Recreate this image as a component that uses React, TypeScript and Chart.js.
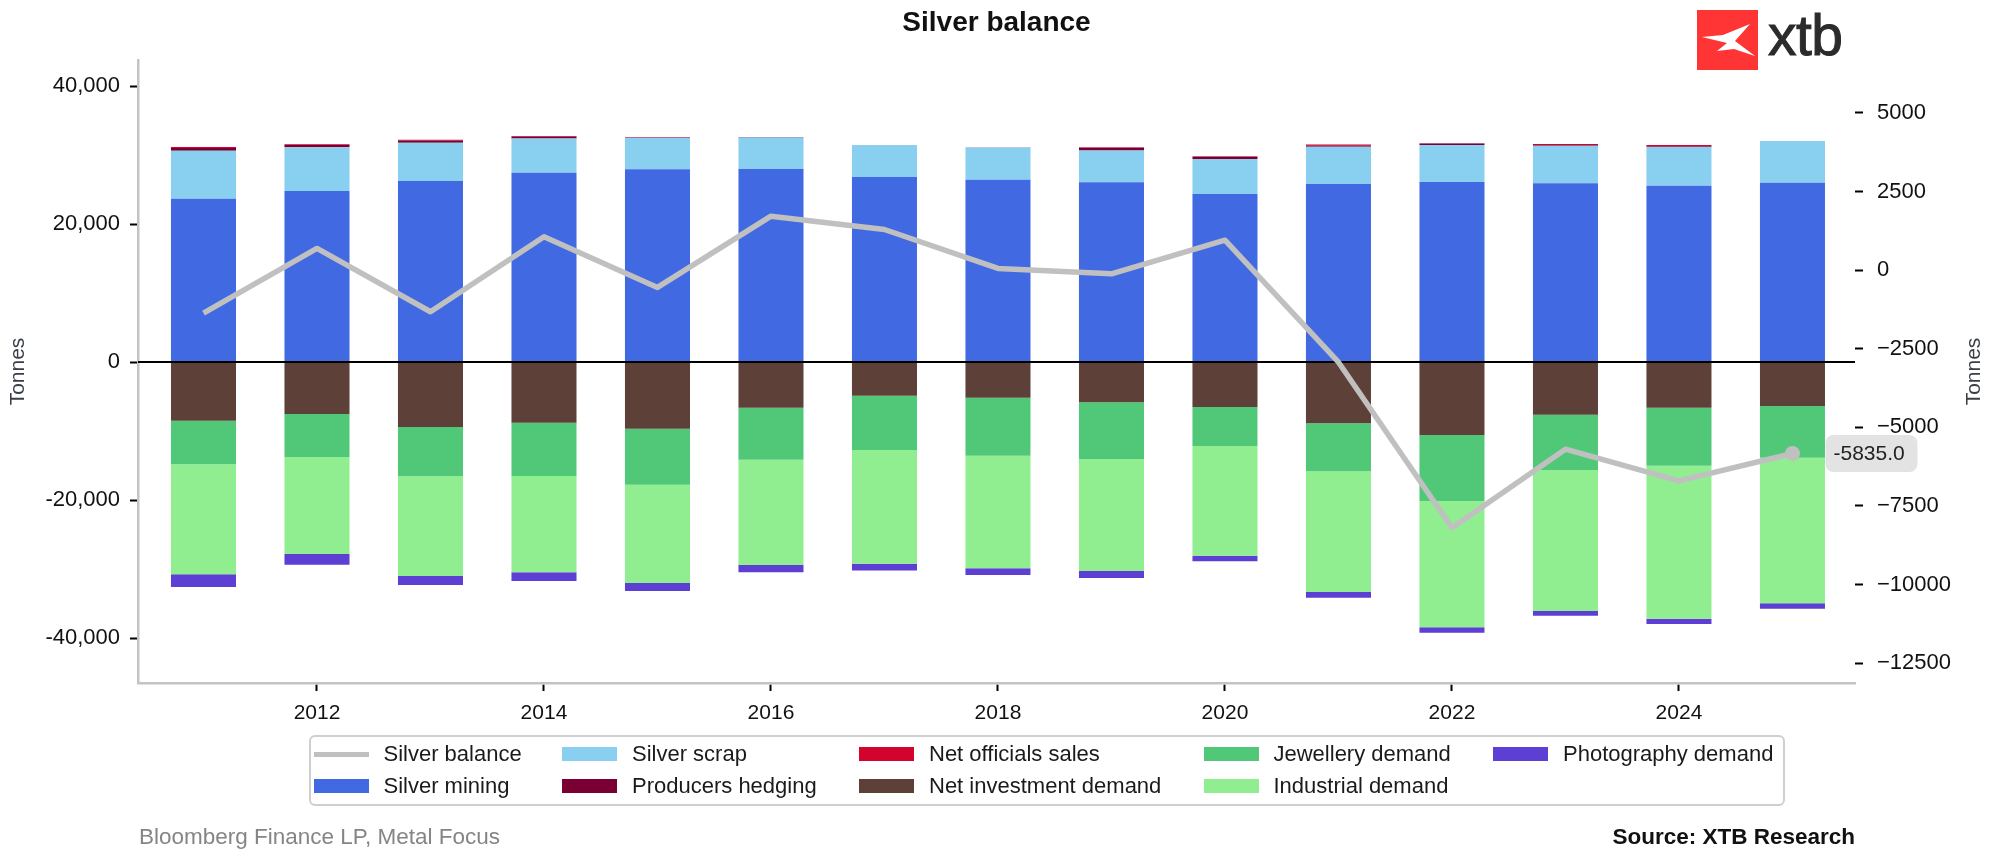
import React, { useEffect, useRef } from 'react';
import { Chart, registerables } from 'chart.js';

Chart.register(...registerables);

// ---------- data ----------
const years = [2011, 2012, 2013, 2014, 2015, 2016, 2017, 2018, 2019, 2020, 2021, 2022, 2023, 2024, 2025];

const silverBalance = [-1366, 689, -1324, 1059, -550, 1716, 1292, 53, -117, 953, -2930, -8197, -5697, -6703, -5835];

const silverMining = [23670, 24783, 26232, 27439, 27923, 27971, 26812, 26425, 26039, 24348, 25797, 26087, 25894, 25555, 25990];
const silverScrap = [6960, 6350, 5550, 4960, 4590, 4560, 4600, 4650, 4600, 5090, 5410, 5370, 5450, 5620, 6040];
const producersHedging = [380, 330, 320, 290, 0, 80, 40, 0, 430, 300, 150, 200, 120, 60, 0];
const netOfficialsSales = [150, 100, 100, 60, 100, 0, 0, 60, 70, 80, 180, 60, 120, 220, 0];
const netInvestmentDemand = [-8500, -7540, -9420, -8790, -9660, -6620, -4880, -5170, -5845, -6520, -8890, -10580, -7630, -6620, -6375];
const jewelleryDemand = [-6330, -6230, -7150, -7730, -8120, -7535, -7875, -8405, -8215, -5650, -6955, -9565, -8020, -8405, -7490];
const industrialDemand = [-15945, -14060, -14445, -13960, -14250, -15265, -16475, -16330, -16230, -15900, -17490, -18310, -20435, -22175, -21110];
const photographyDemand = [-1835, -1545, -1305, -1255, -1160, -1065, -970, -965, -1015, -820, -820, -775, -675, -775, -775];

// ---------- axes ----------
const leftAxisRange = [-46520, 43770];
const rightAxisRange = [-13135, 6684];
const xAxisRange = [2010.423, 2025.551];
const leftTicks = [-40000, -20000, 0, 20000, 40000];
const rightTicks = [-12500, -10000, -7500, -5000, -2500, 0, 2500, 5000];
const xTicks = [2012, 2014, 2016, 2018, 2020, 2022, 2024];

const titleText = 'Silver balance';
const axisTitle = 'Tonnes';
const sourceLeft = 'Bloomberg Finance LP, Metal Focus';
const sourceRight = 'Source: XTB Research';

// ---------- series definitions ----------
const FONT = '"Liberation Sans", Arial, Helvetica, sans-serif';

const balanceSeries = { label: 'Silver balance', data: silverBalance, color: '#c0c0c0' };
const barSeries = [
  { label: 'Silver mining', data: silverMining, color: '#4169e1' },
  { label: 'Silver scrap', data: silverScrap, color: '#89cff0' },
  { label: 'Producers hedging', data: producersHedging, color: '#7a0033' },
  { label: 'Net officials sales', data: netOfficialsSales, color: '#d2042d' },
  { label: 'Net investment demand', data: netInvestmentDemand, color: '#5d4037' },
  { label: 'Jewellery demand', data: jewelleryDemand, color: '#50c878' },
  { label: 'Industrial demand', data: industrialDemand, color: '#90ee90' },
  { label: 'Photography demand', data: photographyDemand, color: '#5d3fd3' },
];

const legendEntries = [
  { label: balanceSeries.label, color: balanceSeries.color, kind: 'line' },
  ...barSeries.map((s) => ({ label: s.label, color: s.color, kind: 'box' })),
];

// legend layout (column-major, 2 rows)
const legendColX = [313.5, 562, 859, 1203.5, 1493];
const legendRowY = [754, 786];

const toPoints = (arr: number[]) => years.map((x, i) => ({ x, y: arr[i] }));
const setTicks = (values: number[]) => (scale: any) => {
  scale.ticks = values.map((value) => ({ value }));
};

const overlayPlugin = {
  id: 'overlay',
  beforeDatasetDraw(chart: any, args: any) {
    if (args.meta.type !== 'line') return;
    const { ctx, chartArea } = chart;
    const y0 = chart.scales.y.getPixelForValue(0);
    ctx.save();
    ctx.strokeStyle = '#000';
    ctx.lineWidth = 2;
    ctx.beginPath();
    ctx.moveTo(chartArea.left, y0);
    ctx.lineTo(chartArea.right, y0);
    ctx.stroke();
    ctx.restore();
  },
  afterDatasetsDraw(chart: any) {
    const { ctx } = chart;
    const meta = chart.getDatasetMeta(chart.data.datasets.length - 1);
    const last = meta.data[meta.data.length - 1];
    if (!last) return;
    const val = silverBalance[silverBalance.length - 1];
    const bx = last.x + 33;
    const bw = 92;
    const bh = 37;
    const by = last.y - bh / 2;
    ctx.save();
    ctx.fillStyle = 'rgba(222,222,222,0.85)';
    ctx.beginPath();
    (ctx as any).roundRect(bx, by, bw, bh, 8);
    ctx.fill();
    ctx.fillStyle = '#222';
    ctx.font = `21px ${FONT}`;
    ctx.textAlign = 'left';
    ctx.textBaseline = 'middle';
    ctx.fillText(val.toFixed(1), bx + 8, last.y + 1);
    ctx.restore();
  },
  afterDraw(chart: any) {
    const { ctx, chartArea } = chart;
    const cy = (chartArea.top + chartArea.bottom) / 2;
    ctx.save();
    ctx.fillStyle = '#3a3f47';
    ctx.font = `21px ${FONT}`;
    ctx.textAlign = 'center';
    ctx.textBaseline = 'middle';
    [18.5, 1974].forEach((x) => {
      ctx.save();
      ctx.translate(x, cy);
      ctx.rotate(-Math.PI / 2);
      ctx.fillText(axisTitle, 0, 0);
      ctx.restore();
    });
    ctx.restore();
  },
};

function ChartCanvas() {
  const ref = useRef<HTMLCanvasElement | null>(null);
  useEffect(() => {
    if (!ref.current) return;
    const datasets: any[] = barSeries.map((s) => ({
      type: 'bar',
      label: s.label,
      data: toPoints(s.data),
      backgroundColor: s.color,
      borderWidth: 0,
      barPercentage: 0.573,
      categoryPercentage: 1,
      xAxisID: 'x',
      yAxisID: 'y',
      stack: 'balance',
      order: 1,
    }));
    datasets.push({
      type: 'line',
      label: balanceSeries.label,
      data: toPoints(balanceSeries.data),
      borderColor: balanceSeries.color,
      backgroundColor: balanceSeries.color,
      borderWidth: 5.5,
      tension: 0,
      borderJoinStyle: 'round',
      pointRadius: (c: any) => (c.dataIndex === years.length - 1 ? 7.5 : 0),
      pointHoverRadius: 0,
      pointBorderWidth: 0,
      pointBackgroundColor: balanceSeries.color,
      xAxisID: 'x',
      yAxisID: 'y1',
      order: 0,
      fill: false,
    });

    const tickFont = { family: FONT, size: 22 };
    const tickGrid = {
      display: true,
      drawOnChartArea: false,
      drawTicks: true,
      tickLength: 8,
      tickColor: '#000',
      tickWidth: 2,
      offset: false,
    };
    const chart = new Chart(ref.current, {
      type: 'bar',
      data: { datasets },
      options: {
        responsive: false,
        animation: false,
        devicePixelRatio: 1,
        layout: { padding: { top: 60, left: 0, right: 0, bottom: 0 } },
        plugins: {
          legend: { display: false },
          tooltip: { enabled: false },
          title: { display: false },
        },
        events: [],
        scales: {
          x: {
            type: 'linear',
            position: 'bottom',
            min: xAxisRange[0],
            max: xAxisRange[1],
            offset: false,
            stacked: true,
            grid: tickGrid,
            border: { display: true, color: '#c4c4c4', width: 2.5 },
            afterBuildTicks: setTicks(xTicks),
            ticks: {
              autoSkip: false,
              maxRotation: 0,
              color: '#111',
              font: { family: FONT, size: 21 },
              padding: 10,
              callback: (v: any) => String(v),
            },
            afterFit: (s: any) => {
              s.height = 176;
            },
          },
          y: {
            type: 'linear',
            position: 'left',
            stacked: true,
            min: leftAxisRange[0],
            max: leftAxisRange[1],
            grid: tickGrid,
            border: { display: true, color: '#c4c4c4', width: 2.5 },
            afterBuildTicks: setTicks(leftTicks),
            ticks: {
              autoSkip: false,
              color: '#111',
              font: tickFont,
              padding: 10,
              callback: (v: any) => Number(v).toLocaleString('en-US'),
            },
            afterFit: (s: any) => {
              s.width = 138;
            },
          },
          y1: {
            type: 'linear',
            position: 'right',
            min: rightAxisRange[0],
            max: rightAxisRange[1],
            grid: tickGrid,
            border: { display: false },
            afterBuildTicks: setTicks(rightTicks),
            ticks: {
              autoSkip: false,
              color: '#111',
              font: tickFont,
              padding: 14,
              callback: (v: any) => (Number(v) < 0 ? '\u2212' + Math.abs(Number(v)) : String(v)),
            },
            afterFit: (s: any) => {
              s.width = 140;
            },
          },
        },
      } as any,
      plugins: [overlayPlugin as any],
    });
    return () => chart.destroy();
  }, []);
  return (
    <canvas
      ref={ref}
      width={1995}
      height={859}
      style={{ position: 'absolute', left: 0, top: 0, display: 'block' }}
    />
  );
}

function Legend() {
  return (
    <>
      <div
        style={{
          position: 'absolute',
          left: 309,
          top: 735,
          width: 1476,
          height: 71,
          boxSizing: 'border-box',
          border: '2px solid #cfcfcf',
          borderRadius: 6,
          background: 'rgba(255,255,255,0.8)',
        }}
      />
      {legendEntries.map((e, i) => {
        const col = Math.floor(i / 2);
        const row = i % 2;
        return (
          <div
            key={e.label}
            style={{
              position: 'absolute',
              left: legendColX[col],
              top: legendRowY[row] - 13,
              height: 26,
              display: 'flex',
              alignItems: 'center',
              whiteSpace: 'nowrap',
              fontSize: 22,
              color: '#1a1a1a',
              fontFamily: FONT,
            }}
          >
            <span
              style={{
                display: 'inline-block',
                width: 55,
                height: e.kind === 'line' ? 5 : 14,
                background: e.color,
                marginRight: 15,
              }}
            />
            <span style={{ lineHeight: '26px' }}>{e.label}</span>
          </div>
        );
      })}
    </>
  );
}

function Logo() {
  return (
    <>
      <svg
        width={61}
        height={60}
        viewBox="0 0 61 60"
        style={{ position: 'absolute', left: 1697, top: 10 }}
      >
        <rect x={0} y={0} width={61} height={60} fill="#ff3535" />
        <path
          d="M5 27 L26 25 L53 14 L38 31 L58 46 L37 39 L20 41 L30 33 Z"
          fill="#ffffff"
        />
      </svg>
      <div
        style={{
          position: 'absolute',
          left: 1768,
          top: 7,
          fontSize: 57,
          lineHeight: 1,
          color: '#2b2b2b',
          fontFamily: FONT,
          letterSpacing: -0.5,
          WebkitTextStroke: '1px #2b2b2b',
        }}
      >
        xtb
      </div>
    </>
  );
}

export default function App() {
  return (
    <div
      style={{
        position: 'absolute',
        left: 0,
        top: 0,
        width: 1995,
        height: 859,
        background: '#fff',
        overflow: 'hidden',
        fontFamily: FONT,
      }}
    >
      <ChartCanvas />
      <div
        style={{
          position: 'absolute',
          left: 138,
          width: 1717,
          top: 8,
          textAlign: 'center',
          fontSize: 28,
          lineHeight: 1,
          fontWeight: 'bold',
          color: '#111',
        }}
      >
        {titleText}
      </div>
      <Logo />
      <Legend />
      <div
        style={{
          position: 'absolute',
          left: 139,
          top: 826,
          fontSize: 22.5,
          lineHeight: 1,
          color: '#858585',
        }}
      >
        {sourceLeft}
      </div>
      <div
        style={{
          position: 'absolute',
          right: 140,
          top: 826,
          fontSize: 22.5,
          lineHeight: 1,
          fontWeight: 'bold',
          color: '#111',
          whiteSpace: 'nowrap',
        }}
      >
        {sourceRight}
      </div>
    </div>
  );
}
